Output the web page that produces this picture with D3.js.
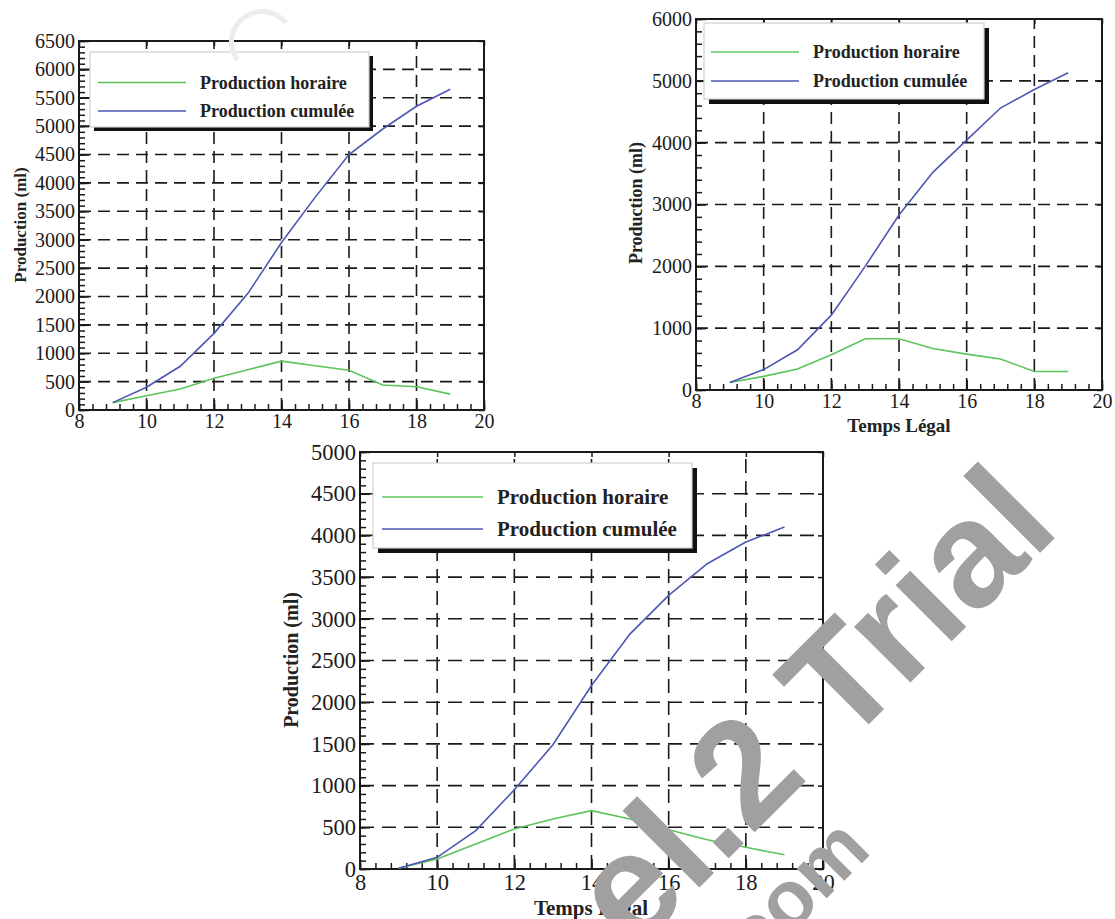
<!DOCTYPE html>
<html>
<head>
<meta charset="utf-8">
<script src="https://cdn.jsdelivr.net/npm/d3@7"></script>
<style>
  body { margin: 0; background: #fff; }
  svg { display: block; }
</style>
</head>
<body>
<svg width="1115" height="919"></svg>
<script>
// heure légale, une mesure par heure
const hours = [9, 10, 11, 12, 13, 14, 15, 16, 17, 18, 19];

// graphe 1 (haut gauche)
const horaire1 = [130, 250, 370, 560, 710, 860, 780, 700, 440, 410, 280];
const cumulee1 = [130, 400, 770, 1350, 2050, 2950, 3750, 4500, 4950, 5350, 5650];

// graphe 2 (haut droite)
const horaire2 = [120, 220, 340, 570, 830, 830, 670, 580, 500, 300, 300];
const cumulee2 = [120, 330, 650, 1210, 2000, 2830, 3520, 4040, 4560, 4860, 5130];

// graphe 3 (bas)
const horaire3 = [10, 120, 300, 480, 600, 700, 600, 470, 350, 260, 170];
const cumulee3 = [10, 140, 460, 950, 1490, 2200, 2820, 3280, 3660, 3920, 4100];

const xTicks = [8, 10, 12, 14, 16, 18, 20];
const yTicks1 = [0, 500, 1000, 1500, 2000, 2500, 3000, 3500, 4000, 4500, 5000, 5500, 6000, 6500];
const yTicks2 = [0, 1000, 2000, 3000, 4000, 5000, 6000];
const yTicks3 = [0, 500, 1000, 1500, 2000, 2500, 3000, 3500, 4000, 4500, 5000];

const seriesNames = ["Production horaire", "Production cumulée"];
const seriesColors = ["#5cc45c", "#4c57b3"];
const yTitle = "Production (ml)";
const xTitle = "Temps Légal";

const svg = d3.select("svg");
const SERIF = "Liberation Serif, DejaVu Serif, serif";

function drawChart(c) {
  const g = svg.append("g");
  const x = d3.scaleLinear().domain([8, 20]).range([c.left, c.right]);
  const y = d3.scaleLinear().domain([0, c.yTicks[c.yTicks.length - 1]]).range([c.bottom, c.top]);

  // dashed grid
  g.append("g").selectAll("line")
    .data(xTicks.slice(1, -1))
    .join("line")
      .attr("x1", d => x(d)).attr("x2", d => x(d))
      .attr("y1", c.bottom).attr("y2", c.top)
      .attr("stroke", "#1a1a1a").attr("stroke-width", 1.6)
      .attr("stroke-dasharray", c.dash);
  g.append("g").selectAll("line")
    .data(c.yTicks.slice(1, -1))
    .join("line")
      .attr("x1", c.left).attr("x2", c.right)
      .attr("y1", d => y(d)).attr("y2", d => y(d))
      .attr("stroke", "#1a1a1a").attr("stroke-width", 1.6)
      .attr("stroke-dasharray", c.dash);

  // axes
  const xMinor = d3.range(8, 20.001, 0.4);
  const yMinor = d3.range(0, c.yTicks[c.yTicks.length - 1] + 1, c.yMinor);

  function style(sel, size) {
    sel.attr("font-family", SERIF).attr("font-size", size).attr("color", "#1a1a1a");
    sel.select(".domain").remove();
    sel.selectAll(".tick line").attr("stroke-width", 1.5);
  }

  g.append("g").attr("transform", `translate(0,${c.bottom})`)
    .call(d3.axisBottom(x).tickValues(xMinor).tickSize(-6).tickFormat(""))
    .call(s => style(s, c.font));
  g.append("g").attr("transform", `translate(0,${c.bottom})`)
    .call(d3.axisBottom(x).tickValues(xTicks).tickSize(-10).tickPadding(c.xPad).tickFormat(d3.format("d")))
    .call(s => style(s, c.font));
  g.append("g").attr("transform", `translate(${c.left},0)`)
    .call(d3.axisLeft(y).tickValues(yMinor).tickSize(-6).tickFormat(""))
    .call(s => style(s, c.font));
  g.append("g").attr("transform", `translate(${c.left},0)`)
    .call(d3.axisLeft(y).tickValues(c.yTicks).tickSize(-10).tickPadding(4).tickFormat(d3.format("d")))
    .call(s => style(s, c.font));
  g.append("g").attr("transform", `translate(0,${c.top})`)
    .call(d3.axisTop(x).tickValues(xTicks).tickSize(-5).tickFormat(""))
    .call(s => style(s, c.font));
  g.append("g").attr("transform", `translate(${c.right},0)`)
    .call(d3.axisRight(y).tickValues(c.yTicks).tickSize(-5).tickFormat(""))
    .call(s => style(s, c.font));

  // frame
  g.append("rect")
    .attr("x", c.left).attr("y", c.top)
    .attr("width", c.right - c.left).attr("height", c.bottom - c.top)
    .attr("fill", "none").attr("stroke", "#1a1a1a").attr("stroke-width", 2);

  // series
  const line = d3.line().x((d, i) => x(hours[i])).y(d => y(d));
  [c.horaire, c.cumulee].forEach((s, k) => {
    g.append("path").datum(s)
      .attr("d", line)
      .attr("fill", "none")
      .attr("stroke", seriesColors[k])
      .attr("stroke-width", 1.6);
  });

  // titles
  g.append("text")
    .attr("transform", `translate(${c.yTitle[0]},${c.yTitle[1]}) rotate(-90)`)
    .attr("text-anchor", "middle").attr("dy", "0.35em")
    .attr("font-family", SERIF).attr("font-weight", "bold")
    .attr("font-size", c.yTitle[2]).attr("fill", "#222")
    .text(yTitle);
  if (c.xTitle) {
    g.append("text")
      .attr("x", c.xTitle[0]).attr("y", c.xTitle[1])
      .attr("text-anchor", "middle").attr("dy", "0.35em")
      .attr("font-family", SERIF).attr("font-weight", "bold")
      .attr("font-size", c.xTitle[2]).attr("fill", "#222")
      .text(xTitle);
  }

  // legend with drop shadow
  const L = c.legend;
  g.append("rect")
    .attr("x", L.x + L.sh).attr("y", L.y + L.sh)
    .attr("width", L.w).attr("height", L.h)
    .attr("fill", "#111");
  g.append("rect")
    .attr("x", L.x).attr("y", L.y)
    .attr("width", L.w).attr("height", L.h)
    .attr("fill", "#fff").attr("stroke", "#cfcfcf").attr("stroke-width", 1.2);
  seriesNames.forEach((name, k) => {
    g.append("line")
      .attr("x1", L.lx1).attr("x2", L.lx2)
      .attr("y1", L.rows[k]).attr("y2", L.rows[k])
      .attr("stroke", seriesColors[k]).attr("stroke-width", 1.6);
    g.append("text")
      .attr("x", L.tx).attr("y", L.rows[k]).attr("dy", "0.35em")
      .attr("font-family", SERIF).attr("font-weight", "bold")
      .attr("font-size", L.font).attr("fill", "#222")
      .text(name);
  });
}

drawChart({
  left: 79, right: 484, top: 41, bottom: 410,
  yTicks: yTicks1, yMinor: 100, font: 20, xPad: 4, dash: "12,7",
  horaire: horaire1, cumulee: cumulee1,
  yTitle: [20, 225, 17],
  legend: { x: 90, y: 52, w: 279, h: 75, sh: 4, lx1: 98, lx2: 186, tx: 200, rows: [82.5, 111], font: 18 }
});

drawChart({
  left: 696, right: 1102, top: 19, bottom: 390,
  yTicks: yTicks2, yMinor: 200, font: 20, xPad: 4, dash: "12,7",
  horaire: horaire2, cumulee: cumulee2,
  yTitle: [636, 203, 18],
  xTitle: [899, 425, 19],
  legend: { x: 704, y: 23, w: 280, h: 76, sh: 5, lx1: 711, lx2: 799, tx: 813, rows: [52, 81], font: 18 }
});

drawChart({
  left: 360, right: 823, top: 452, bottom: 869,
  yTicks: yTicks3, yMinor: 100, font: 22.5, xPad: 5, dash: "14,8",
  horaire: horaire3, cumulee: cumulee3,
  yTitle: [291, 660, 20],
  xTitle: [591, 908, 21],
  legend: { x: 373, y: 463, w: 319, h: 85, sh: 5, lx1: 382, lx2: 483, tx: 497, rows: [497, 529], font: 21 }
});

// faint mark at the top and trial watermark over the page
svg.append("path")
  .attr("transform", "translate(262,42)")
  .attr("d", d3.arc()({ innerRadius: 28, outerRadius: 33, startAngle: -2.2, endAngle: 0.9 }))
  .attr("fill", "#ececec");

const WM = "Liberation Sans, Arial, sans-serif";
svg.append("text")
  .attr("transform", "translate(844,749) rotate(-45)")
  .attr("font-family", WM).attr("font-weight", "bold").attr("font-size", 150)
  .attr("fill", "#a0a0a0")
  .text("Trial");
svg.append("text")
  .attr("transform", "translate(810,777) rotate(-45)")
  .attr("text-anchor", "end")
  .attr("font-family", WM).attr("font-weight", "bold").attr("font-size", 150)
  .attr("fill", "#a0a0a0")
  .text("el.2");
svg.append("text")
  .attr("transform", "translate(873,852) rotate(-45)")
  .attr("text-anchor", "end")
  .attr("font-family", WM).attr("font-weight", "bold").attr("font-size", 80)
  .attr("fill", "#a0a0a0")
  .text(".com");
</script>
</body>
</html>
